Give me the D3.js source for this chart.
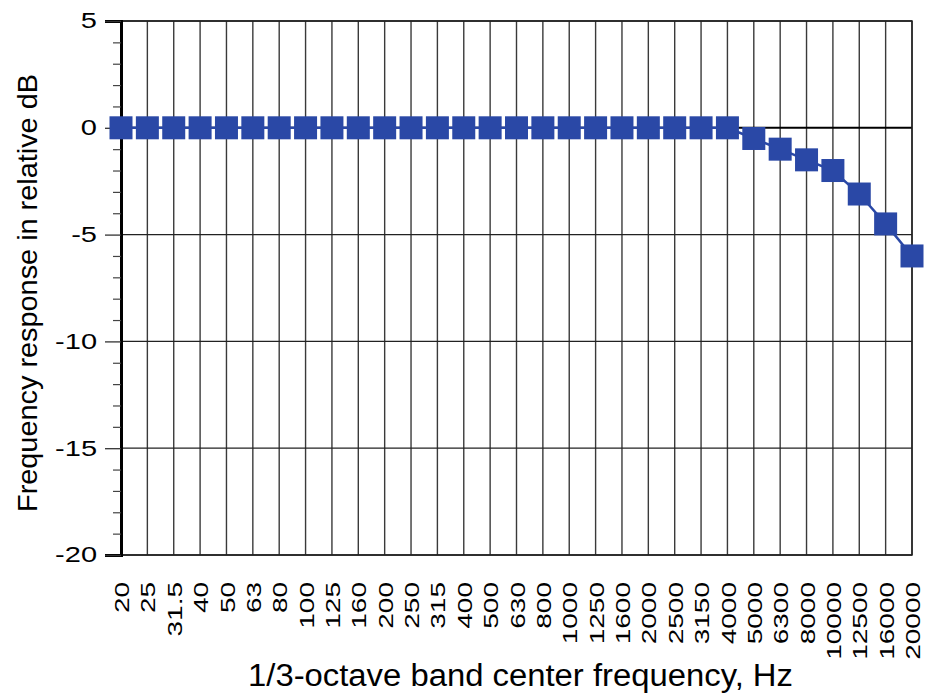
<!DOCTYPE html>
<html><head><meta charset="utf-8">
<script src="https://cdn.jsdelivr.net/npm/d3@7"></script>
<style>body{margin:0;background:#fff}svg{display:block}text{font-family:"Liberation Sans",Arial,sans-serif}</style>
</head><body>
<svg id="c" width="925" height="696"></svg>
<script>
const categories = ["20","25","31.5","40","50","63","80","100","125","160","200","250","315","400","500","630","800","1000","1250","1600","2000","2500","3150","4000","5000","6300","8000","10000","12500","16000","20000"];
const responseDb = [0,0,0,0,0,0,0,0,0,0,0,0,0,0,0,0,0,0,0,0,0,0,0,0,-0.5,-1,-1.5,-2,-3.1,-4.5,-6];
const yMajorTicks = [5,0,-5,-10,-15,-20];
const yMinorTicks = d3.range(-20,6,1);

const svg = d3.select("#c");
const L=121, R=912, T=21, B=555;
const x = d3.scalePoint().domain(categories).range([L,R]).padding(0);
const y = d3.scaleLinear().domain([-20,5]).range([B,T]);
const g = svg.append("g");

// vertical grid
g.selectAll(".vg").data(categories).join("line")
 .attr("x1",d=>x(d)).attr("x2",d=>x(d)).attr("y1",T).attr("y2",B)
 .attr("stroke","#3a3a3a").attr("stroke-width",1.4);
// horizontal grid
g.selectAll(".hg").data(yMajorTicks).join("line")
 .attr("x1",L).attr("x2",R).attr("y1",d=>y(d)).attr("y2",d=>y(d))
 .attr("stroke",d=>d===0?"#000":"#222").attr("stroke-width",d=>d===0?2:1.3);
// frame
g.append("rect").attr("x",L).attr("y",T).attr("width",R-L).attr("height",B-T)
 .attr("fill","none").attr("stroke","#222").attr("stroke-width",1.5);

// y axis
const yAxis = d3.axisLeft(y).tickValues(yMajorTicks).tickSize(16).tickPadding(8).tickFormat(d3.format("d"));
const ya = svg.append("g").attr("transform",`translate(${L},0)`).call(yAxis);
ya.select(".domain").attr("stroke","#000").attr("stroke-width",3);
ya.selectAll(".tick line").attr("stroke","#333").attr("stroke-width",1.3);
ya.selectAll(".tick text").text(d=>d<0?"-"+Math.abs(d):d)
 .attr("font-size",29).attr("fill","#000").attr("transform","scale(1,0.75)")
 .style("font-family","Liberation Sans, Arial, sans-serif");
const yMinor = d3.axisLeft(y).tickValues(yMinorTicks.filter(v=>v%5!==0)).tickSize(8).tickFormat("");
const ym = svg.append("g").attr("transform",`translate(${L},0)`).call(yMinor);
ym.select(".domain").remove();
ym.selectAll(".tick line").attr("stroke","#444").attr("stroke-width",1.2);

// x axis
const xAxis = d3.axisBottom(x).tickSize(0).tickPadding(0);
const xa = svg.append("g").attr("transform",`translate(0,${B})`).call(xAxis);
xa.select(".domain").remove();
xa.selectAll(".tick text")
 .attr("transform","rotate(-90) scale(1,0.75)").attr("text-anchor","end")
 .attr("x",-27).attr("y",0).attr("dy","0.36em")
 .attr("font-size",28).attr("fill","#000").style("font-family","Liberation Sans, Arial, sans-serif");

// line + markers
const col = "#2a48a6";
const pts = categories.map((c,i)=>({c,v:responseDb[i]}));
svg.append("path").datum(pts)
 .attr("d",d3.line().x(d=>x(d.c)).y(d=>y(d.v)))
 .attr("fill","none").attr("stroke",col).attr("stroke-width",2.5);
const ms=23;
svg.selectAll(".m").data(pts).join("rect")
 .attr("x",d=>x(d.c)-ms/2).attr("y",d=>y(d.v)-ms/2).attr("width",ms).attr("height",ms)
 .attr("fill",col);

// titles
svg.append("text").attr("x",248).attr("y",686).attr("text-anchor","start")
 .attr("font-size",31).attr("fill","#000")
 .attr("textLength",545).attr("lengthAdjust","spacingAndGlyphs")
 .text("1/3-octave band center frequency, Hz");
svg.append("text").attr("transform","translate(37,512) rotate(-90)").attr("text-anchor","start")
 .attr("font-size",28).attr("fill","#000")
 .attr("textLength",438).attr("lengthAdjust","spacingAndGlyphs")
 .text("Frequency response in relative dB");
</script>
</body></html>
